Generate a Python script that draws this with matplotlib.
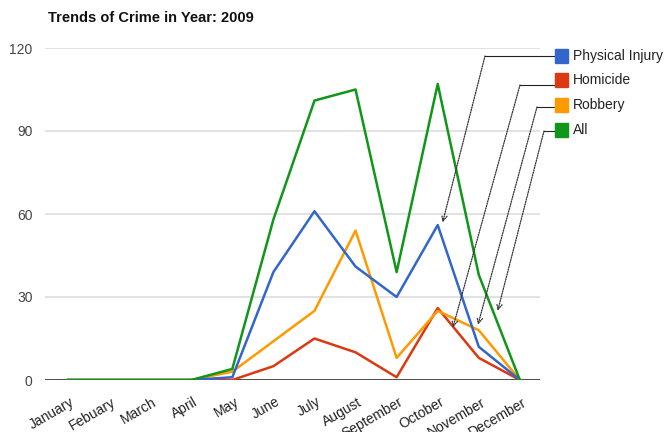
import matplotlib
matplotlib.use("Agg")
import matplotlib.pyplot as plt
import matplotlib.transforms as mtransforms
from matplotlib.patches import Rectangle
from matplotlib.lines import Line2D

plt.rcParams['font.family'] = ['Liberation Sans', 'DejaVu Sans']

months = ['January', 'Febuary', 'March', 'April', 'May', 'June', 'July',
          'August', 'September', 'October', 'November', 'December']
physical_injury = [0, 0, 0, 0, 1, 39, 61, 41, 30, 56, 12, 0]
homicide = [0, 0, 0, 0, 0, 5, 15, 10, 1, 26, 8, 0]
robbery = [0, 0, 0, 0, 3, 14, 25, 54, 8, 25, 18, 0]
all_crimes = [0, 0, 0, 0, 4, 58, 101, 105, 39, 107, 38, 0]

series_names = ['Physical Injury', 'Homicide', 'Robbery', 'All']
series_colors = ['#3366cc', '#dc3912', '#ff9900', '#109618']
# where each legend callout arrow points (x in month index, y in value)
arrow_x = [9.12, 9.37, 9.98, 10.46]
arrow_y = [57, 19, 20, 25]

W, H = 665, 432
fig = plt.figure(figsize=(W / 100, H / 100), dpi=100)
ax = fig.add_axes([45 / W, 1 - 380 / H, 495 / W, 332 / H])

x = list(range(len(months)))
# draw order: homicide, robbery, physical injury, all on top
for vals, col in [(homicide, series_colors[1]), (robbery, series_colors[2]),
                  (physical_injury, series_colors[0]), (all_crimes, series_colors[3])]:
    ax.plot(x, vals, color=col, lw=1.8, zorder=3)

ax.set_xlim(-0.56, 11.49)
ax.set_ylim(0, 120)
ax.set_yticks([0, 30, 60, 90, 120])
ax.grid(axis='y', color='#dddddd', lw=1.2, zorder=0)
ax.axhline(0, color='#333333', lw=1.2, zorder=2)
for s in ax.spines.values():
    s.set_visible(False)
ax.tick_params(axis='both', length=0, labelsize=10)
ax.tick_params(axis='y', colors='#444444', pad=9)
ax.set_xticks(x)
ax.set_xticklabels(months, rotation=30, ha='right', rotation_mode='anchor',
                   color='#222222', fontsize=10)
offset = mtransforms.ScaledTranslation(2 / 100, -10 / 100, fig.dpi_scale_trans)
for lab in ax.get_xticklabels():
    lab.set_transform(lab.get_transform() + offset)

fig.text(48 / W, 1 - 22 / H, 'Trends of Crime in Year: 2009', fontsize=10.5,
         fontweight='bold', color='#111111', va='baseline')

# legend with callout arrows
legend_y = [56, 80, 105, 130]
elbow_x = [485, 520, 537, 544]
elbow_y = [56, 85, 107, 131]
for i, name in enumerate(series_names):
    sq = Rectangle((555 / W, 1 - (legend_y[i] + 7) / H), 13 / W, 14 / H,
                   transform=fig.transFigure, color=series_colors[i], zorder=5)
    fig.add_artist(sq)
    fig.text(573 / W, 1 - legend_y[i] / H, name, fontsize=10, color='#222222',
             va='center')
    fig.add_artist(Line2D([elbow_x[i] / W, 561 / W],
                          [1 - elbow_y[i] / H, 1 - elbow_y[i] / H],
                          transform=fig.transFigure, color='#222222', lw=0.8, zorder=4))
    ax.annotate('', xy=(arrow_x[i], arrow_y[i]),
                xytext=(elbow_x[i] / W, 1 - elbow_y[i] / H), textcoords='figure fraction',
                arrowprops=dict(arrowstyle='->', linestyle=(0, (1, 1)), color='#333333',
                                lw=0.9, shrinkA=0, shrinkB=0), zorder=6,
                annotation_clip=False)

fig.savefig('out.png', dpi=100)
